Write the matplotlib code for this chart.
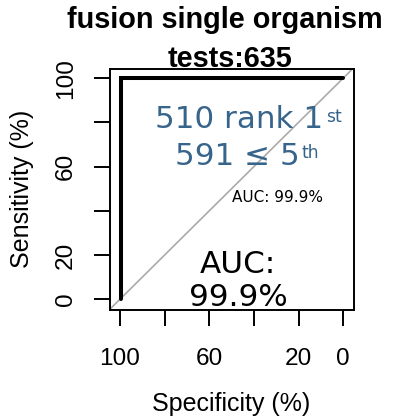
import matplotlib
matplotlib.use("Agg")
import matplotlib.pyplot as plt

# ---- data ----
specificity = [99.4, 99.4, 0.0]
sensitivity = [0.0, 100.0, 100.0]
x_ticks = [100, 80, 60, 40, 20, 0]
x_tick_labels = ["100", "", "60", "", "20", "0"]
y_ticks = [0, 20, 40, 60, 80, 100]
y_tick_labels = ["0", "20", "", "60", "", "100"]
title_lines = ["fusion single organism", "tests:635"]
rank1_text = "510 rank 1"
rank1_sup = "st"
rank5_text = "591 \u2264 5"
rank5_sup = "th"
auc_small = "AUC: 99.9%"
auc_big = "AUC:\n99.9%"

W, H = 399, 420
fig = plt.figure(figsize=(W / 100, H / 100), dpi=100)

def fx(px):
    return px / W

def fy(py):
    return 1 - py / H

L, R, T, B = 110, 354, 69, 310
ax = fig.add_axes([fx(L), fy(B), fx(R) - fx(L), fy(T) - fy(B)])
ax.set_xlim(104.5, -4.8)
ax.set_ylim(-4.9, 104.1)

ax.axline((100, 0), (0, 100), color="#aaaaaa", lw=1.2, zorder=1)
ax.plot(specificity, sensitivity, color="black", lw=2.9,
        solid_capstyle="round", solid_joinstyle="miter", zorder=2)

for s in ax.spines.values():
    s.set_linewidth(1.4)

sans = "Liberation Sans"
ax.set_xticks(x_ticks, labels=x_tick_labels)
ax.set_yticks(y_ticks, labels=y_tick_labels)
ax.tick_params(axis="both", length=11.5, width=1.4, labelsize=17.6, direction="out")
ax.tick_params(axis="x", pad=16)
ax.tick_params(axis="y", pad=12.5)
for lab in ax.get_xticklabels():
    lab.set_fontfamily(sans)
for lab in ax.get_yticklabels():
    lab.set_fontfamily(sans)
    lab.set_rotation(90)
    lab.set_va("center")

fig.text(fx(231), fy(411), "Specificity (%)", fontsize=18, family=sans,
         ha="center", va="baseline")
fig.text(fx(22), fy(189), "Sensitivity (%)", fontsize=18, family=sans,
         ha="center", va="center", rotation=90)

fig.text(fx(225), fy(28), title_lines[0], fontsize=20.8, family=sans,
         fontweight="bold", ha="center", va="baseline")
fig.text(fx(230), fy(67), title_lines[1], fontsize=20.8, family=sans,
         fontweight="bold", ha="center", va="baseline")

blue = "#36648B"
dv = "DejaVu Sans"
fig.text(fx(323), fy(128), rank1_text, fontsize=22.3, family=dv, color=blue,
         ha="right", va="baseline")
fig.text(fx(326), fy(122), rank1_sup, fontsize=12.3, family=dv, color=blue,
         ha="left", va="baseline")
fig.text(fx(300), fy(165), rank5_text, fontsize=22.3, family=dv, color=blue,
         ha="right", va="baseline")
fig.text(fx(302), fy(158), rank5_sup, fontsize=12.3, family=dv, color=blue,
         ha="left", va="baseline")

fig.text(fx(277), fy(202), auc_small, fontsize=11, family=dv, color="black",
         ha="center", va="baseline")
fig.text(fx(238), fy(281), auc_big, fontsize=22.3, family=dv, color="black",
         ha="center", va="center", linespacing=1.2)

fig.savefig("out.png", dpi=100)
